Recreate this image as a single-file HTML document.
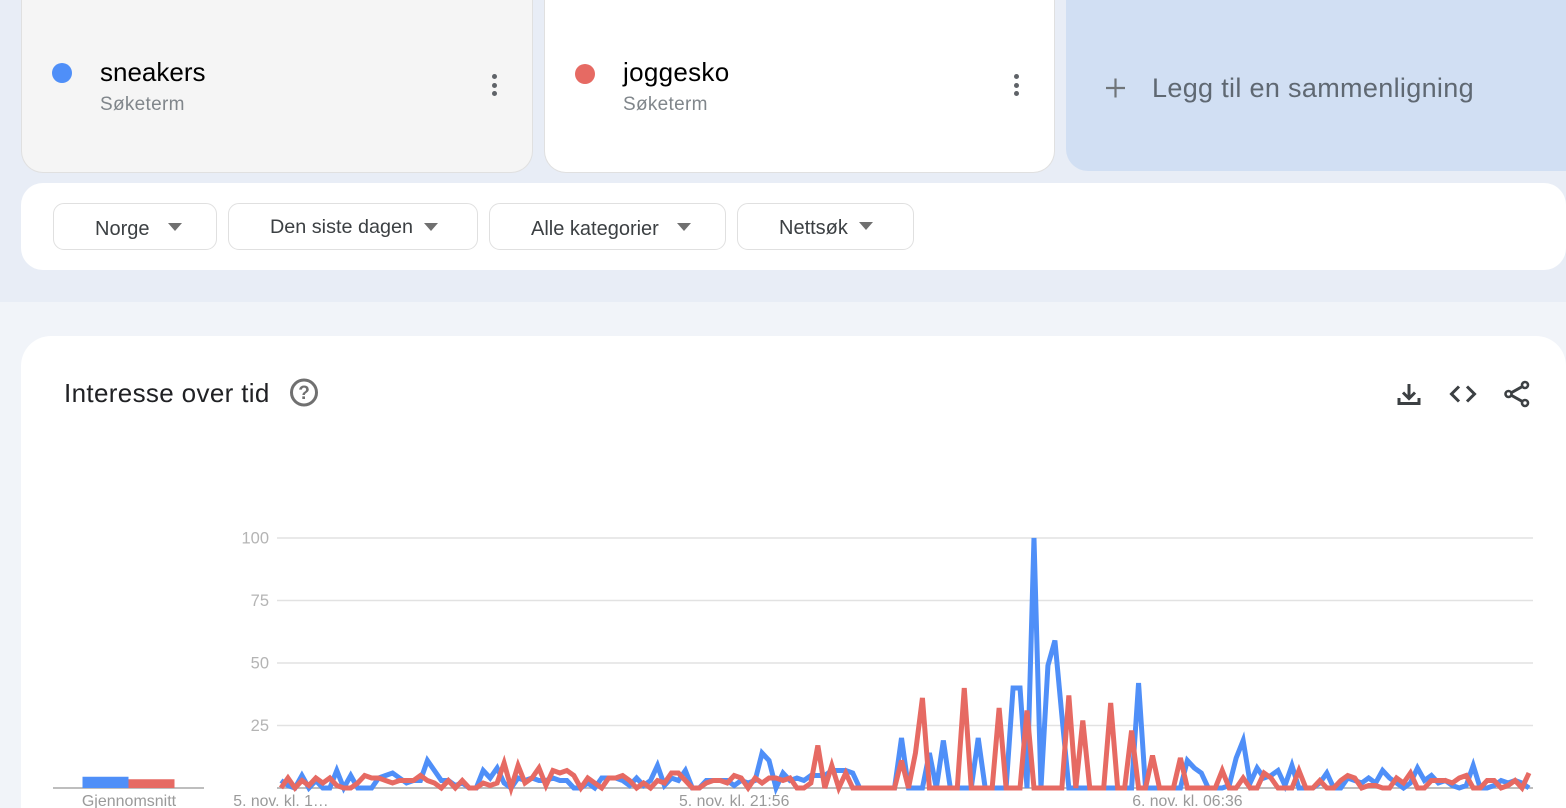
<!DOCTYPE html>
<html lang="no">
<head>
<meta charset="utf-8">
<title>Interesse over tid</title>
<style>
html,body{margin:0;padding:0;width:1566px;height:808px;overflow:hidden;background:#f1f4f9;font-family:"Liberation Sans",sans-serif}
#page{position:relative;width:1566px;height:808px;overflow:hidden}
.abs{position:absolute}
.t{position:absolute;white-space:nowrap;line-height:1}
.btn{position:absolute;top:203px;height:45px;background:#fff;border:1px solid #e0e0e0;border-radius:11px}
.tri{position:absolute;width:0;height:0;border-left:7px solid transparent;border-right:7px solid transparent;border-top:8px solid #707070}
.dot{position:absolute;width:5px;height:5px;border-radius:50%;background:#5f6368}
</style>
</head>
<body>
<div id="page">
  <div class="abs" style="left:0;top:0;width:1566px;height:302px;background:#e8edf6"></div>

  <div class="abs" style="left:21px;top:0;width:510px;height:172px;background:#f5f5f5;border:1px solid #e0e0e0;border-top:none;border-radius:0 0 22px 22px"></div>
  <div class="abs" style="left:52px;top:63px;width:20px;height:20px;border-radius:50%;background:#4f8ff8"></div>
  <div class="t" style="left:100px;top:59px;font-size:26px;color:#000">sneakers</div>
  <div class="t" style="left:100px;top:95px;font-size:19px;letter-spacing:.3px;color:#80868b">Søketerm</div>
  <div class="abs" style="left:485px;top:70px;width:18px;height:30px">
    <div class="dot" style="left:7px;top:4px"></div><div class="dot" style="left:7px;top:12.5px"></div><div class="dot" style="left:7px;top:21px"></div>
  </div>

  <div class="abs" style="left:544px;top:0;width:509px;height:172px;background:#fff;border:1px solid #e0e0e0;border-top:none;border-radius:0 0 22px 22px"></div>
  <div class="abs" style="left:575px;top:64px;width:20px;height:20px;border-radius:50%;background:#e66a63"></div>
  <div class="t" style="left:623px;top:59px;font-size:26px;letter-spacing:.3px;color:#000">joggesko</div>
  <div class="t" style="left:623px;top:95px;font-size:19px;letter-spacing:.3px;color:#80868b">Søketerm</div>
  <div class="abs" style="left:1007px;top:70px;width:18px;height:30px">
    <div class="dot" style="left:7px;top:4px"></div><div class="dot" style="left:7px;top:12.5px"></div><div class="dot" style="left:7px;top:21px"></div>
  </div>

  <div class="abs" style="left:1066px;top:0;width:500px;height:171px;background:#d1dff3;border-radius:0 0 0 22px"></div>
  <svg class="abs" style="left:1104px;top:76px" width="24" height="24"><path d="M2 12H21M11.5 2.500V21.500" stroke="#707579" stroke-width="2.200" fill="none"/></svg>
  <div class="t" style="left:1152px;top:75px;font-size:27px;letter-spacing:.33px;color:#5f6872">Legg til en sammenligning</div>

  <div class="abs" style="left:21px;top:183px;width:1545px;height:87px;background:#fff;border-radius:22px"></div>
  <div class="btn" style="left:53px;width:162px"></div>
  <div class="t" style="left:95px;top:219px;font-size:20px;color:#3c4043">Norge</div>
  <div class="tri" style="left:168px;top:223px"></div>
  <div class="btn" style="left:228px;width:248px"></div>
  <div class="t" style="left:270px;top:218px;font-size:19.8px;color:#3c4043">Den siste dagen</div>
  <div class="tri" style="left:424px;top:223px"></div>
  <div class="btn" style="left:489px;width:235px"></div>
  <div class="t" style="left:531px;top:219px;font-size:20px;color:#3c4043">Alle kategorier</div>
  <div class="tri" style="left:677px;top:223px"></div>
  <div class="btn" style="left:737px;width:175px"></div>
  <div class="t" style="left:779px;top:218px;font-size:20px;color:#3c4043">Nettsøk</div>
  <div class="tri" style="left:859px;top:222px"></div>

  <div class="abs" style="left:21px;top:336px;width:1545px;height:472px;background:#fff;border-radius:30px 30px 0 0"></div>
  <div class="t" style="left:64px;top:380px;font-size:26px;letter-spacing:.35px;color:#202124">Interesse over tid</div>
  <svg class="abs" style="left:289px;top:378px" width="30" height="30">
    <circle cx="15" cy="14.500" r="12.500" fill="none" stroke="#707070" stroke-width="3"/>
    <text x="15" y="21" text-anchor="middle" font-family="Liberation Sans" font-weight="bold" font-size="19" fill="#707070">?</text>
  </svg>
  <svg class="abs" style="left:1396px;top:381px" width="26" height="26">
    <path d="M13 3V17M7 11.500L13 17.500L19 11.500M3 17V22.500H23V17" fill="none" stroke="#3c4043" stroke-width="3"/>
  </svg>
  <svg class="abs" style="left:1449px;top:384px" width="28" height="20">
    <path d="M10 2.500L2.500 10L10 17.500M18 2.500L25.500 10L18 17.500" fill="none" stroke="#3c4043" stroke-width="3"/>
  </svg>
  <svg class="abs" style="left:1503px;top:380px" width="28" height="28">
    <path d="M6 14L22 5M6 14L22 23" fill="none" stroke="#3c4043" stroke-width="3"/>
    <circle cx="5.500" cy="14" r="3" fill="#fff" stroke="#3c4043" stroke-width="2.600"/>
    <circle cx="22" cy="5" r="3" fill="#fff" stroke="#3c4043" stroke-width="2.600"/>
    <circle cx="22" cy="23" r="3" fill="#fff" stroke="#3c4043" stroke-width="2.600"/>
  </svg>

  <svg id="chart" class="abs" style="left:0;top:0" width="1566" height="808"></svg>
</div>
<script>
var yTickValues = [25, 50, 75, 100];
var xTickIndexes = [0, 65, 130];
var xTickLabels = ["5. nov. kl. 1\u2026", "5. nov. kl. 21:56", "6. nov. kl. 06:36"];
var averageLabel = "Gjennomsnitt";
var averageValues = [4.5, 3.5];
var sneakersValues = [
  3,1,0,5,0,3,0,0,7,0,
  5,0,0,0,4,5,6,4,2,3,
  3,11,7,3,3,1,2,0,0,7,
  4,8,2,0,4,3,4,3,3,4,
  3,3,0,0,2,0,4,4,4,3,
  1,4,1,3,9,1,4,3,7,0,
  0,3,3,3,3,1,3,2,3,14,
  11,0,6,3,4,3,5,5,5,7,
  7,7,6,0,0,0,0,0,0,20,
  0,0,0,14,0,19,0,0,0,0,
  20,0,0,0,0,40,40,0,100,0,
  49,59,29,0,0,0,0,0,0,0,
  0,0,0,42,0,0,0,0,0,0,
  11,8,6,0,0,0,1,12,19,2,
  8,4,5,7,1,9,0,0,0,2,
  6,0,0,4,3,2,4,2,7,4,
  2,0,2,8,3,5,2,3,1,0,
  1,9,0,0,1,3,2,3,2,0
];
var joggeskoValues = [
  0,4,0,3,1,4,2,4,1,0,
  0,2,5,4,4,3,2,3,3,3,
  5,3,2,0,3,0,3,0,0,2,
  1,2,10,0,9,2,4,8,1,7,
  6,7,5,0,4,2,0,4,4,5,
  3,0,2,0,3,2,6,6,3,0,
  0,2,3,3,2,5,4,0,4,2,
  4,4,3,4,0,0,2,17,0,9,
  0,6,0,0,0,0,0,0,0,11,
  0,14,36,0,0,0,0,0,40,0,
  0,0,0,32,0,0,0,31,0,0,
  0,0,0,37,0,27,0,0,0,34,
  0,0,23,0,0,13,0,0,0,12,
  0,0,0,0,0,7,0,0,4,0,
  0,6,4,0,0,0,7,0,0,3,
  0,0,3,5,4,0,1,1,0,0,
  4,2,6,0,0,3,3,3,2,4,
  5,0,0,3,3,0,1,3,0,6
];

var svgNS = "http://www.w3.org/2000/svg";
var chart = document.getElementById("chart");
var BLUE = "#4f8ff8", RED = "#e66a63";
function xScale(i) { return 281 + i * 1248 / (sneakersValues.length - 1); }
function yScale(v) { return 788 - v * 2.5; }
function make(tag, attrs) {
  var el = document.createElementNS(svgNS, tag);
  for (var k in attrs) el.setAttribute(k, attrs[k]);
  chart.appendChild(el);
  return el;
}
function linePoints(values) {
  return values.map(function (v, i) { return xScale(i).toFixed(2) + "," + yScale(v).toFixed(2); }).join(" ");
}

yTickValues.forEach(function (t) {
  var g = make("line", { x1: 277, x2: 1533, y1: yScale(t), y2: yScale(t), stroke: "#e2e2e2", "stroke-width": 1.5 });
  
  
  var lab = make("text", { x: 269, y: yScale(t) + 5.5, "text-anchor": "end", "font-family": "Liberation Sans", "font-size": 16.5, fill: "#b4b4b4" });
  lab.textContent = t;
  
  
});

var axis = make("line", { x1: 277, x2: 1533, y1: 788, y2: 788, stroke: "#a8a8a8", "stroke-width": 1.5 });



xTickIndexes.forEach(function (idx, n) {
  var lab = make("text", { x: xScale(idx), y: 806, "text-anchor": "middle", "font-family": "Liberation Sans", "font-size": 15.8, fill: "#9a9a9a" });
  lab.textContent = xTickLabels[n];
  
  
});

var avgAxis = make("line", { x1: 53, x2: 204, y1: 788, y2: 788, stroke: "#a8a8a8", "stroke-width": 1.5 });



averageValues.forEach(function (v, i) {
  var b = make("rect", { x: 82.5 + i * 46, y: yScale(v), width: 46, height: 788 - yScale(v), fill: i === 0 ? BLUE : RED });
  
  
});

var avgLab = make("text", { x: 129, y: 806, "text-anchor": "middle", "font-family": "Liberation Sans", "font-size": 16, fill: "#9a9a9a" });
avgLab.textContent = averageLabel;



var blueLine = make("polyline", { points: linePoints(sneakersValues), fill: "none", stroke: BLUE, "stroke-width": 5, "stroke-miterlimit": 4 });


var redLine = make("polyline", { points: linePoints(joggeskoValues), fill: "none", stroke: RED, "stroke-width": 5, "stroke-miterlimit": 4 });


</script>
</body>
</html>
